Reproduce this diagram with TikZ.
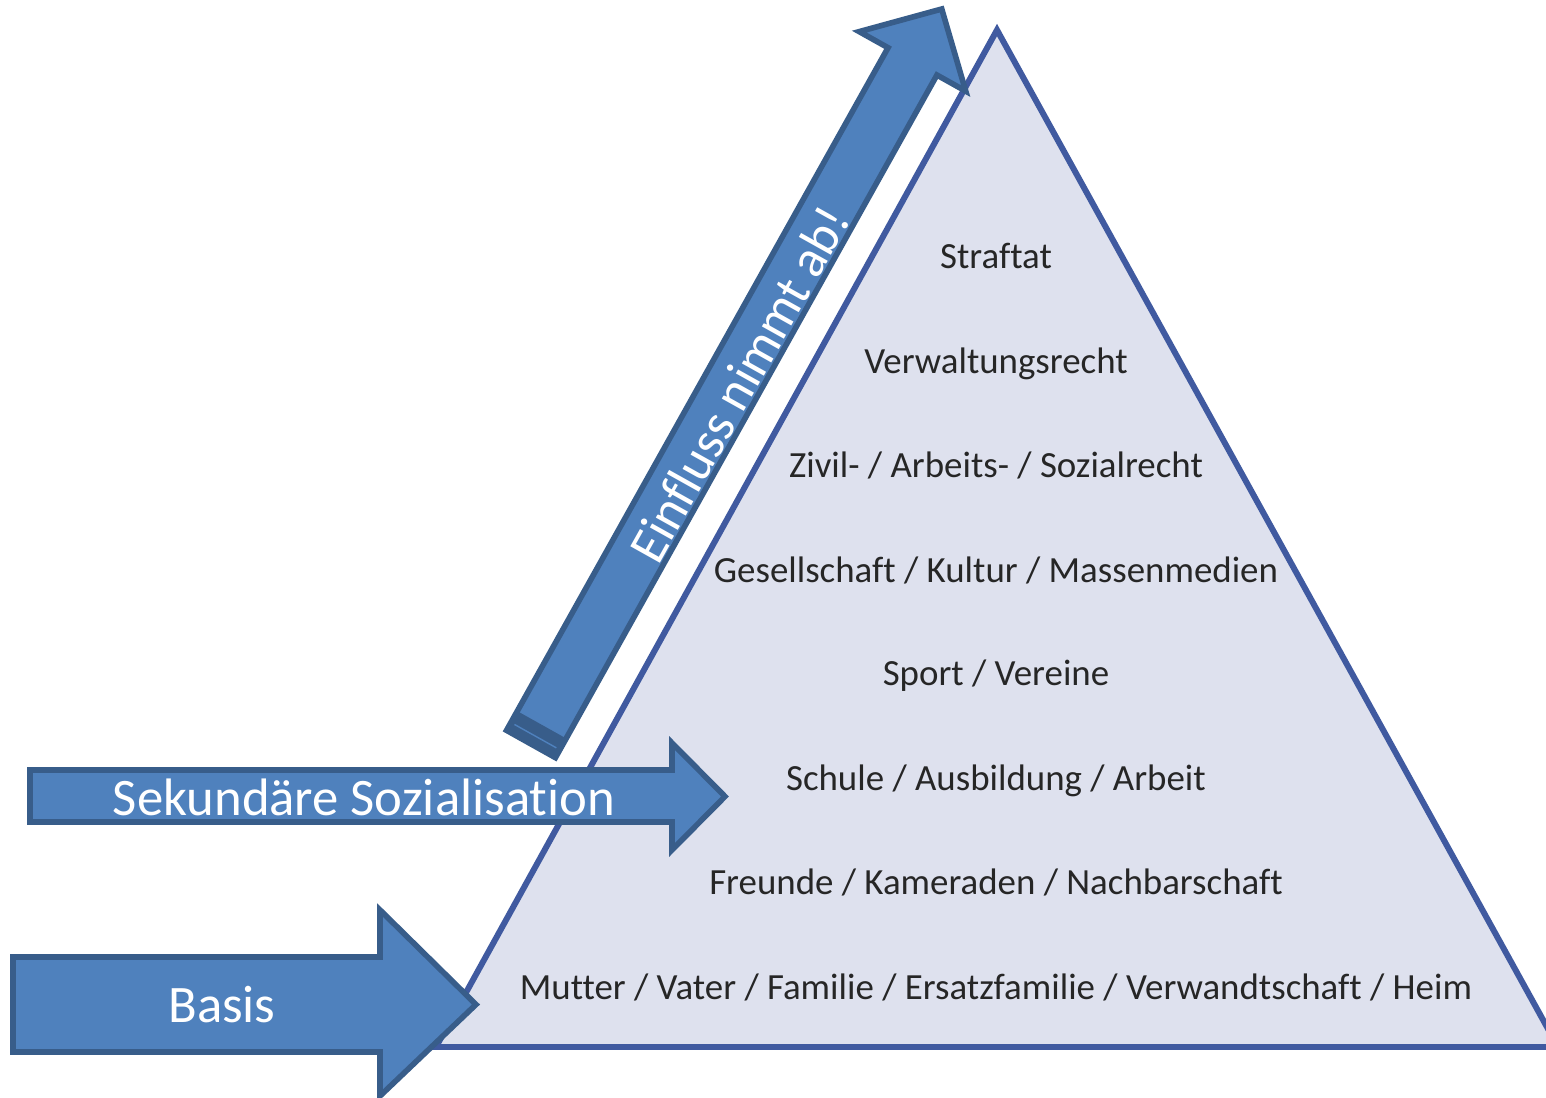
\documentclass[tikz,border=0pt]{standalone}
\usepackage{fontspec}
\setmainfont{Carlito}[Ligatures=CommonOff]
\newfontfamily\stufenfont[Ligatures=CommonOff]{Carlito}
\usepackage{tikz}
\usetikzlibrary{calc}

\definecolor{pfeilblau}{RGB}{79,129,189}
\definecolor{pfeilrand}{RGB}{56,93,138}
\definecolor{pyrfill}{RGB}{222,225,238}
\definecolor{pyrrand}{RGB}{64,90,160}

\tikzset{
    pyramide/.style={fill=pyrfill,draw=pyrrand,line width=1.7pt,line join=miter},
    pfeil/.style={fill=pfeilblau,draw=pfeilrand,line width=1.6pt,line join=miter},
    pfeiltext/.style={text=white,inner sep=0pt,font=\fontsize{15}{18}\selectfont},
    stufe/.style={text=black!85,anchor=base,inner sep=0pt,font=\stufenfont\fontsize{10.5}{12}\selectfont}
}

\begin{document}
\begin{tikzpicture}
        \useasboundingbox (0,0) rectangle (15.46,-10.98);
        % save geometry of the slanted arrow to macros
        \pgfmathsetmacro{\Lang}{8.42}
        \pgfmathsetmacro{\Kopf}{0.60}
        \pgfmathsetmacro{\myAngle}{60.8}
        \pgfmathsetmacro{\Schaft}{\Lang-\Kopf}

        % the pyramid
        \coordinate (spitze) at (9.97,-0.30);
        \coordinate (links) at (4.36,-10.47);
        \coordinate (rechts) at (15.58,-10.47);
        \filldraw[pyramide] (spitze) -- (links) -- (rechts) -- cycle;

        % levels, from top to base
        \foreach \y/\txt [count=\i] in {2.69/Straftat,
            3.74/Verwaltungsrecht,
            4.78/{Zivil- / Arbeits- / Sozialrecht},
            5.83/{Gesellschaft / Kultur / Massenmedien},
            6.86/{Sport / Vereine},
            7.91/{Schule / Ausbildung / Arbeit},
            8.95/{Freunde / Kameraden / Nachbarschaft},
            10.00/{Mutter / Vater / Familie / Ersatzfamilie / Verwandtschaft / Heim}}
            \node[stufe] (stufe\i) at (9.96,-\y) {\txt};

        % slanted arrow
        \begin{scope}[shift={(5.31,-7.44)},rotate=\myAngle]
            \filldraw[pfeil] (0,0.28) -- (\Schaft,0.28) -- (\Schaft,0.61)
              -- (\Lang,0) -- (\Schaft,-0.61) -- (\Schaft,-0.28) -- (0,-0.28) -- cycle;
            \fill[pfeilrand] (0,0.28) rectangle (0.22,-0.28);
            \draw[pfeilblau,thin] (0.09,0.24) -- (0.09,-0.24);
            \node[pfeiltext,rotate=\myAngle] (einfluss) at (4.16,-0.06) {Einfluss nimmt ab!};
        \end{scope}

        % arrow to the middle
        \filldraw[pfeil] (0.30,-7.70) -- (6.72,-7.70) -- (6.72,-7.43) -- (7.25,-7.965)
          -- (6.72,-8.50) -- (6.72,-8.22) -- (0.30,-8.22) -- cycle;
        \node[pfeiltext] (sekundaer) at (3.64,-7.97) {Sekundäre Sozialisation};

        % arrow to the base
        \filldraw[pfeil] (0.13,-9.57) -- (3.80,-9.57) -- (3.80,-9.10) -- (4.76,-10.045)
          -- (3.80,-10.96) -- (3.80,-10.52) -- (0.13,-10.52) -- cycle;
        \node[pfeiltext] (basis) at (2.22,-10.05) {Basis};
    \end{tikzpicture}
\end{document}
